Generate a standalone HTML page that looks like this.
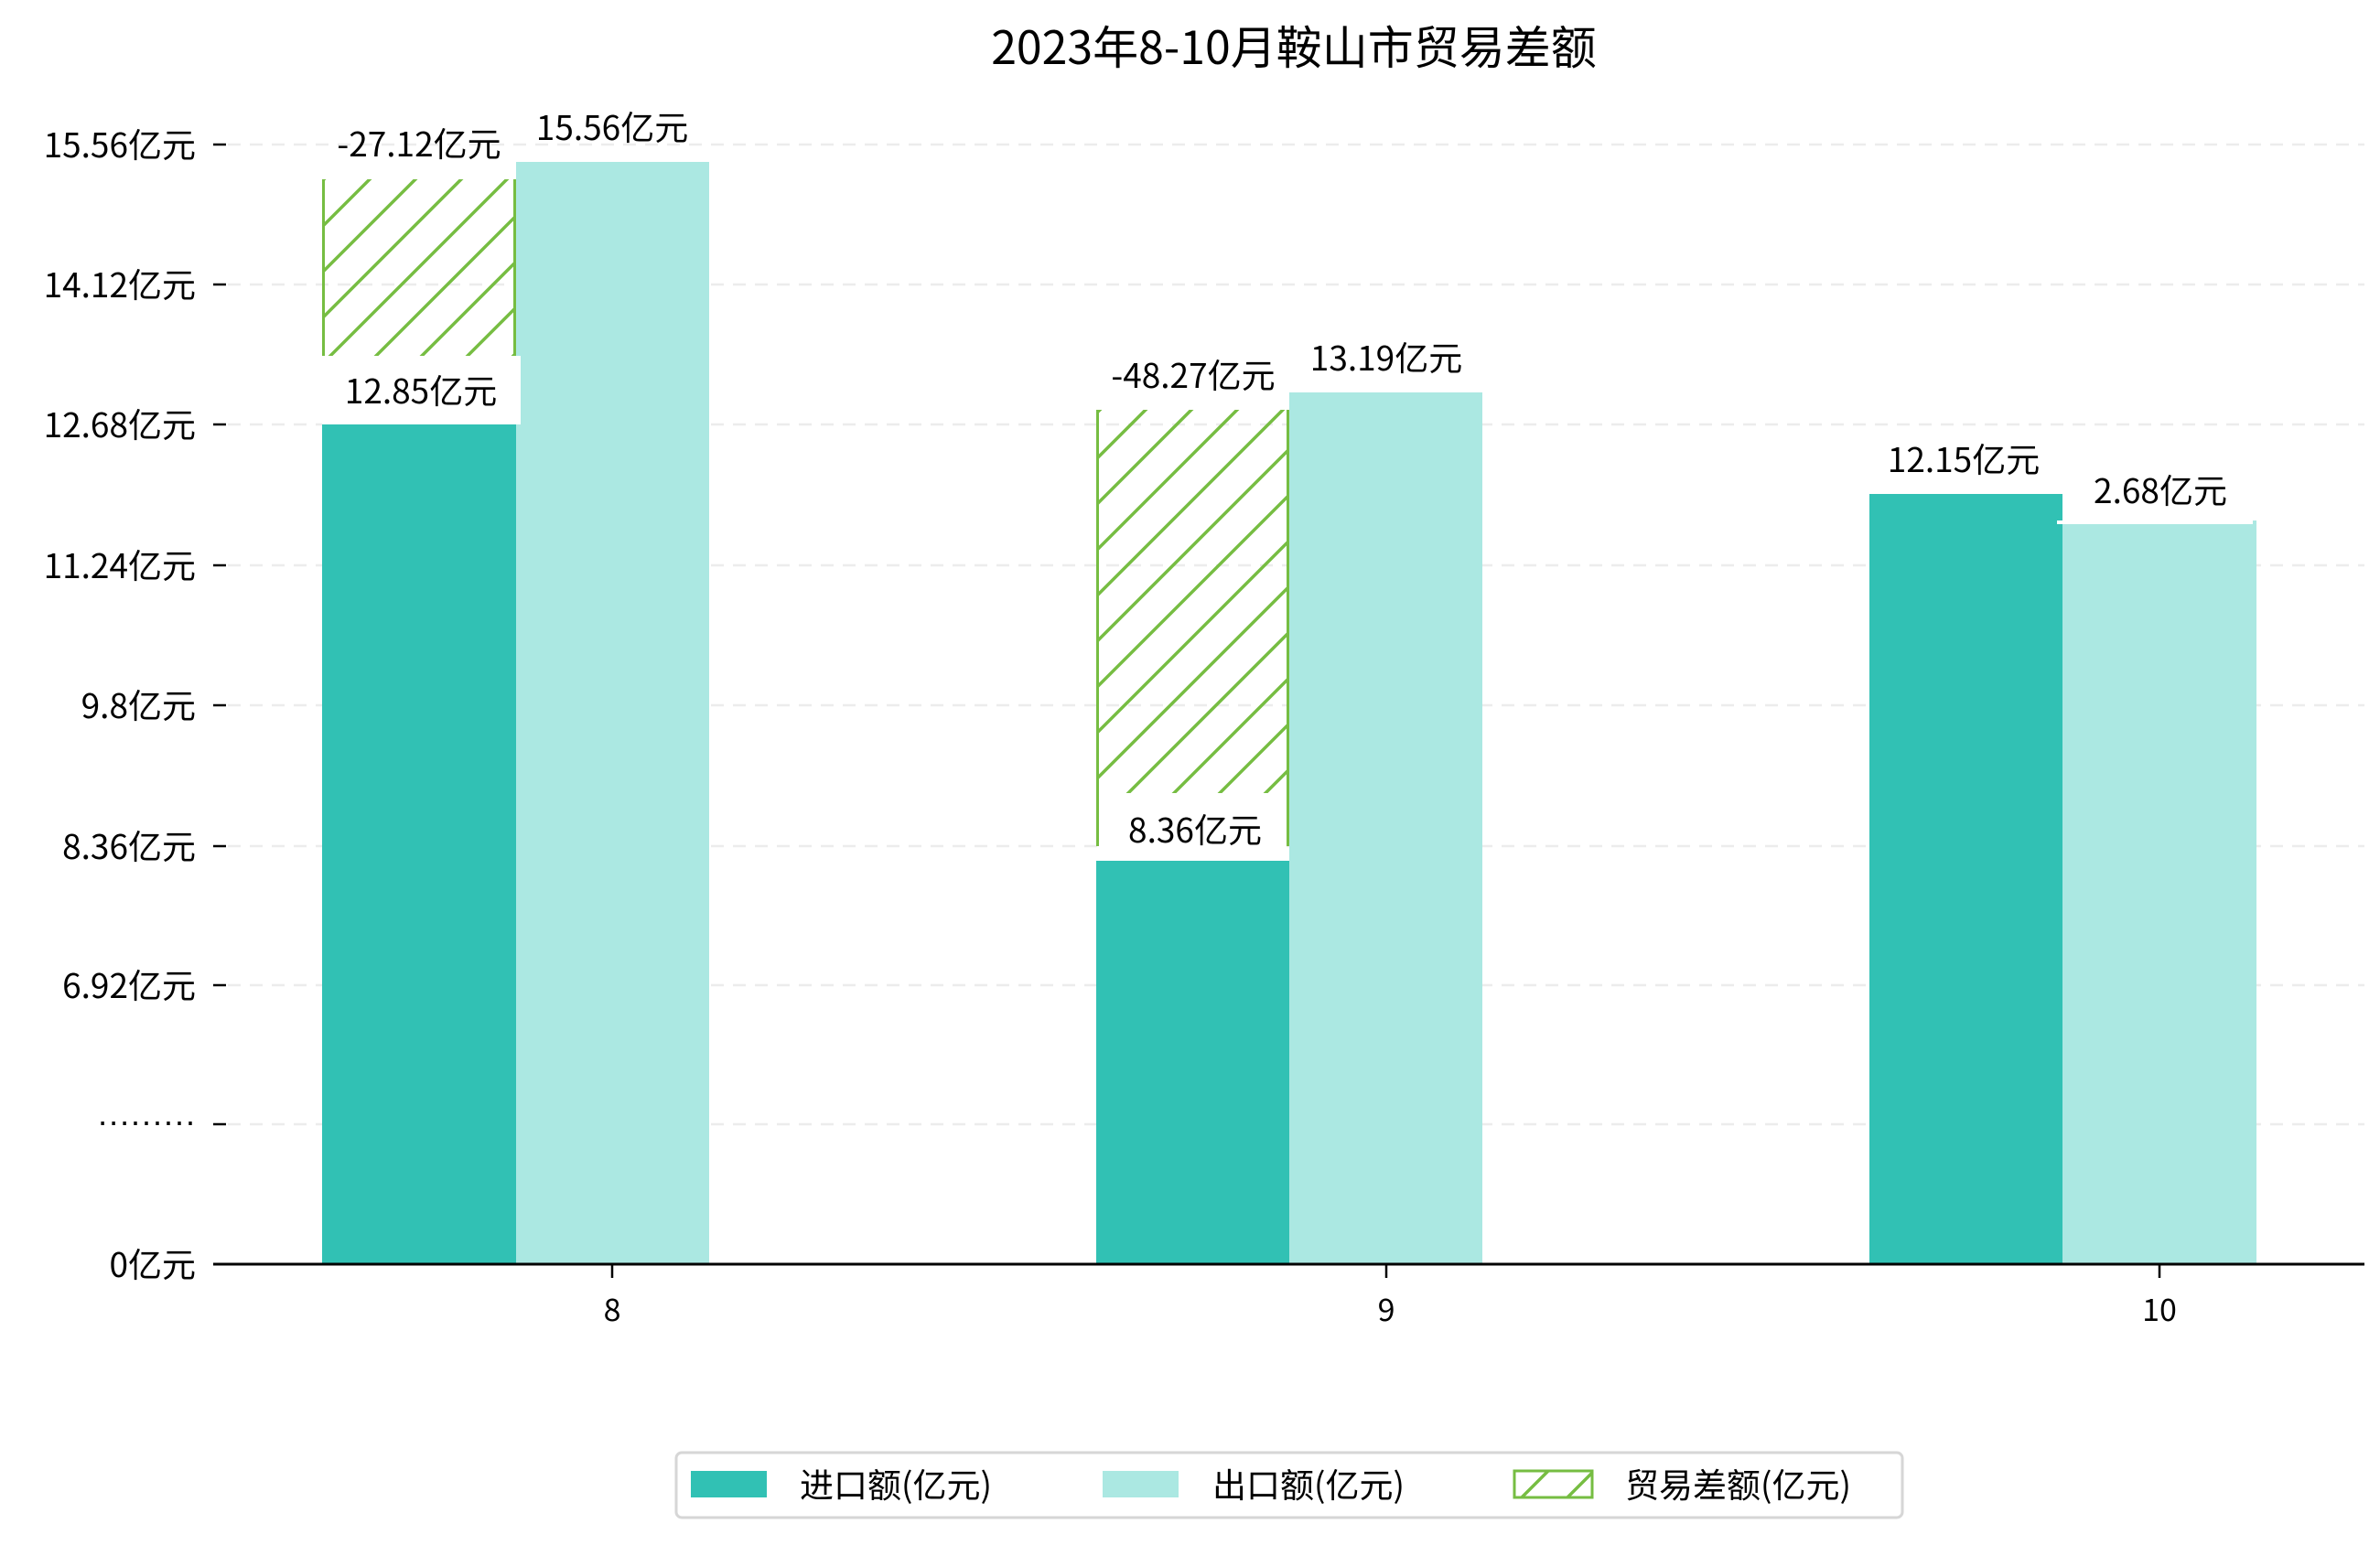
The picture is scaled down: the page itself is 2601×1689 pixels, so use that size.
<!DOCTYPE html>
<html><head><meta charset="utf-8"><style>
html,body{margin:0;padding:0;background:#fff;}
svg{display:block;}
text{font-family:"WenQuanYi Zen Hei","Noto Sans CJK SC",sans-serif;fill:#000;}
</style></head><body>
<svg width="2601" height="1689" viewBox="0 0 2601 1689" xmlns="http://www.w3.org/2000/svg">
<defs>
<pattern id="h" patternUnits="userSpaceOnUse" width="50" height="50">
<path d="M-10,10 L10,-10 M0,50 L50,0 M40,60 L60,40" stroke="#76bd42" stroke-width="3.5"/>
</pattern>
</defs>
<text x="1414" y="70" font-size="50" text-anchor="middle">2023年8-10月鞍山市贸易差额</text>
<g stroke="#ececec" stroke-width="2.5" stroke-dasharray="14,10">
<line x1="249" y1="158" x2="2584" y2="158"/>
<line x1="249" y1="311" x2="2584" y2="311"/>
<line x1="249" y1="464" x2="2584" y2="464"/>
<line x1="249" y1="618" x2="2584" y2="618"/>
<line x1="249" y1="771" x2="2584" y2="771"/>
<line x1="249" y1="925" x2="2584" y2="925"/>
<line x1="249" y1="1077" x2="2584" y2="1077"/>
<line x1="249" y1="1229" x2="2584" y2="1229"/>
</g>
<g font-size="37" text-anchor="end">
<text x="214" y="172">15.56亿元</text>
<text x="214" y="325">14.12亿元</text>
<text x="214" y="478">12.68亿元</text>
<text x="214" y="632">11.24亿元</text>
<text x="214" y="785">9.8亿元</text>
<text x="214" y="939">8.36亿元</text>
<text x="214" y="1091">6.92亿元</text>
<text x="214" y="1238" style="font-family:'Liberation Sans',sans-serif" font-size="36">·········</text>
<text x="214" y="1396">0亿元</text>
</g>
<g stroke="#000" stroke-width="2.5">
<line x1="233" y1="158" x2="247" y2="158"/>
<line x1="233" y1="311" x2="247" y2="311"/>
<line x1="233" y1="464" x2="247" y2="464"/>
<line x1="233" y1="618" x2="247" y2="618"/>
<line x1="233" y1="771" x2="247" y2="771"/>
<line x1="233" y1="925" x2="247" y2="925"/>
<line x1="233" y1="1077" x2="247" y2="1077"/>
<line x1="233" y1="1229" x2="247" y2="1229"/>
</g>
<rect x="352" y="464" width="212" height="918" fill="#31c1b4"/>
<rect x="564" y="177" width="211" height="1205" fill="#abe8e2"/>
<rect x="1198" y="941" width="211" height="441" fill="#31c1b4"/>
<rect x="1409" y="429" width="211" height="953" fill="#abe8e2"/>
<rect x="2043" y="540" width="211" height="842" fill="#31c1b4"/>
<rect x="2254" y="569" width="212" height="813" fill="#abe8e2"/>
<rect x="352" y="196" width="212" height="193" fill="url(#h)"/>
<line x1="353.5" y1="196" x2="353.5" y2="389" stroke="#76bd42" stroke-width="3"/>
<line x1="562.5" y1="196" x2="562.5" y2="389" stroke="#76bd42" stroke-width="3"/>
<rect x="1198" y="448" width="211" height="419" fill="url(#h)"/>
<line x1="1199.5" y1="448" x2="1199.5" y2="925" stroke="#76bd42" stroke-width="3"/>
<line x1="1407.5" y1="448" x2="1407.5" y2="925" stroke="#76bd42" stroke-width="3"/>
<rect x="352" y="389" width="217" height="75" fill="#fff"/>
<rect x="1201" y="867" width="205" height="74" fill="#fff"/>
<rect x="2248" y="569" width="214" height="4" fill="#fff"/>
<g font-size="37" text-anchor="middle">
<text x="458" y="171">-27.12亿元</text>
<text x="669" y="153">15.56亿元</text>
<text x="460" y="441">12.85亿元</text>
<text x="1304" y="424">-48.27亿元</text>
<text x="1515" y="405">13.19亿元</text>
<text x="1306" y="921">8.36亿元</text>
<text x="2146" y="516">12.15亿元</text>
<text x="2361" y="550">2.68亿元</text>
</g>
<line x1="233" y1="1382" x2="2584" y2="1382" stroke="#000" stroke-width="3"/>
<g stroke="#000" stroke-width="2.5">
<line x1="669" y1="1383" x2="669" y2="1397"/>
<line x1="1515" y1="1383" x2="1515" y2="1397"/>
<line x1="2360" y1="1383" x2="2360" y2="1397"/>
</g>
<g font-size="34" text-anchor="middle">
<text x="669" y="1444">8</text>
<text x="1515" y="1444">9</text>
<text x="2360" y="1444">10</text>
</g>
<rect x="739" y="1588" width="1340" height="71" rx="6" fill="#fff" stroke="#d6d6d6" stroke-width="3"/>
<rect x="755" y="1608" width="83" height="29" fill="#31c1b4"/>
<rect x="1205" y="1608" width="83" height="29" fill="#abe8e2"/>
<rect x="1655" y="1608" width="85" height="29" fill="url(#h)" stroke="#76bd42" stroke-width="3"/>
<g font-size="37">
<text x="874" y="1637">进口额(亿元)</text>
<text x="1325" y="1637">出口额(亿元)</text>
<text x="1776" y="1637">贸易差额(亿元)</text>
</g>
</svg>
</body></html>
